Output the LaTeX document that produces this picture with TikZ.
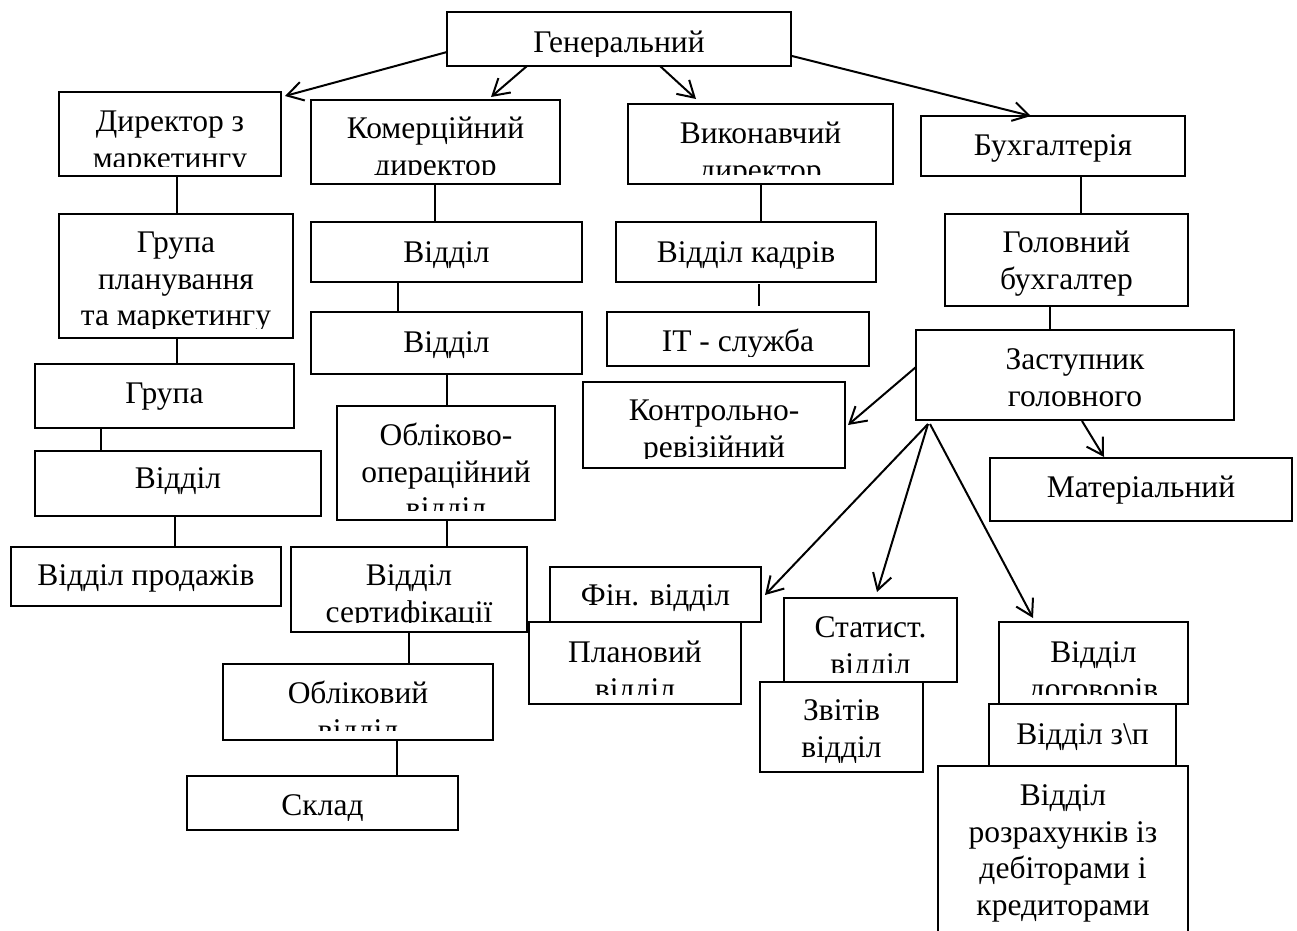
\documentclass[tikz,border=0pt]{standalone}
\usepackage{fontspec}
\setmainfont{Liberation Serif}
\usetikzlibrary{arrows.meta,calc}
\tikzset{
  orgbox/.style={draw, line width=1.4pt, rectangle, inner sep=0pt, outer sep=0pt},
  orgtext/.style={anchor=north, inner sep=0pt, align=center, font=\fontsize{31.5}{36.8}\selectfont},
  link/.style={line width=1.3pt},
  arr/.style={line width=2pt, -{Straight Barb[length=16pt,width=19pt,line width=2pt]}},
}
% #1 name, #2 x1, #3 y1, #4 x2, #5 y2, #6 first baseline, #7 text
\newcommand\OrgBox[7]{%
  \pgfmathsetmacro\obxc{(#2+#4)/2}%
  \pgfmathsetmacro\obyc{(#3+#5)/2}%
  \pgfmathsetmacro\obw{#4-#2}%
  \pgfmathsetmacro\obh{#5-#3}%
  \node[orgbox, minimum width=\obw pt, minimum height=\obh pt] (#1) at (\obxc,\obyc) {};
  \begin{scope}
    \clip (#2,#3) rectangle (#4,{#5-10});
    \node[orgtext] (#1-t) at (\obxc,{#6-25.76}) {\strut #7};
  \end{scope}
}
\begin{document}
\begin{tikzpicture}[x=1pt,y=-1pt]
\useasboundingbox (0,0) rectangle (1297,930);
\clip (0,0) rectangle (1297,930);

\OrgBox{gen}{447}{12}{791}{66}{52}{Генеральний}
\OrgBox{dm}{59}{92}{281}{176}{131}{Директор з\\маркетингу}
\OrgBox{kom}{311}{100}{560}{184}{138}{Комерційний\\директор}
\OrgBox{vyk}{628}{104}{893}{184}{143}{Виконавчий\\директор}
\OrgBox{buh}{921}{116}{1185}{176}{155}{Бухгалтерія}

\OrgBox{gpm}{59}{214}{293}{338}{252}{Група\\планування\\та маркетингу}
\OrgBox{gr}{35}{364}{294}{428}{403}{Група}
\OrgBox{vd}{35}{451}{321}{516}{488}{Відділ}
\OrgBox{vp}{11}{547}{281}{606}{585}{Відділ продажів}

\OrgBox{vka}{311}{222}{582}{282}{262}{Відділ}
\OrgBox{vkb}{311}{312}{582}{374}{352}{Відділ}
\OrgBox{oo}{337}{406}{555}{520}{445}{Обліково-\\операційний\\відділ}
\OrgBox{vs}{291}{547}{527}{632}{585}{Відділ\\сертифікації}
\OrgBox{ob}{223}{664}{493}{740}{703}{Обліковий\\відділ}
\OrgBox{sk}{187}{776}{458}{830}{815}{Склад}

\OrgBox{kd}{616}{222}{876}{282}{262}{Відділ кадрів}
\OrgBox{it}{607}{312}{869}{366}{351}{IT - служба}
\OrgBox{kr}{583}{382}{845}{468}{420}{Контрольно-\\ревізійний}

\OrgBox{gb}{945}{214}{1188}{306}{252}{Головний\\бухгалтер}
\OrgBox{zg}{916}{330}{1234}{420}{369}{Заступник\\головного}
\OrgBox{mt}{990}{458}{1292}{521}{497}{Матеріальний}

\OrgBox{fin}{550}{567}{761}{622}{605}{Фін. відділ}
\OrgBox{pl}{529}{622}{741}{704}{662}{Плановий\\відділ}
\OrgBox{st}{784}{598}{957}{682}{637}{Статист.\\відділ}
\OrgBox{zv}{760}{682}{923}{772}{720}{Звітів\\відділ}
\OrgBox{dg}{999}{622}{1188}{704}{662}{Відділ\\договорів}
\OrgBox{zp}{989}{704}{1176}{766}{744}{Відділ з\textbackslash п}
\OrgBox{rz}{938}{766}{1188}{1000}{805}{Відділ\\розрахунків із\\дебіторами і\\кредиторами}

% vertical links
\draw[link] (dm.south -| 177,0) -- (gpm.north -| 177,0);
\draw[link] (gpm.south -| 177,0) -- (gr.north -| 177,0);
\draw[link] (gr.south -| 101,0) -- (vd.north -| 101,0);
\draw[link] (vd.south -| 175,0) -- (vp.north -| 175,0);
\draw[link] (kom.south -| 435,0) -- (vka.north -| 435,0);
\draw[link] (vka.south -| 398,0) -- (vkb.north -| 398,0);
\draw[link] (vkb.south -| 447,0) -- (oo.north -| 447,0);
\draw[link] (oo.south -| 447,0) -- (vs.north -| 447,0);
\draw[link] (vs.south -| 409,0) -- (ob.north -| 409,0);
\draw[link] (ob.south -| 397,0) -- (sk.north -| 397,0);
\draw[link] (vyk.south -| 761,0) -- (kd.north -| 761,0);
\draw[link, shorten <=2pt, shorten >=6pt] (kd.south -| 759,0) -- (it.north -| 759,0);
\draw[link] (buh.south -| 1081,0) -- (gb.north -| 1081,0);
\draw[link] (gb.south -| 1050,0) -- (zg.north -| 1050,0);

% arrows
\draw[arr] ($(gen.south west)+(0,-14)$) -- ($(dm.north east)+(4,4)$);
\draw[arr] ($(gen.south west)+(80,0)$) -- ($(kom.north west)+(180,-3)$);
\draw[arr] ($(gen.south west)+(213,0)$) -- ($(vyk.north west)+(68,-5)$);
\draw[arr] ($(gen.south east)+(1,-10)$) -- ($(buh.north west)+(110,0)$);
\draw[arr] ($(zg.south west)+(0,-53)$) -- ($(kr.north east)+(3,43)$);
\draw[arr] ($(zg.south west)+(166,1)$) -- ($(mt.north west)+(114,-1)$);
\draw[arr] ($(zg.south west)+(12,4)$) -- ($(fin.north east)+(4,28)$);
\draw[arr] ($(zg.south west)+(12,4)$) -- ($(st.north west)+(93,-6)$);
\draw[arr] ($(zg.south west)+(14,4)$) -- ($(dg.north west)+(34,-4)$);
\end{tikzpicture}
\end{document}
